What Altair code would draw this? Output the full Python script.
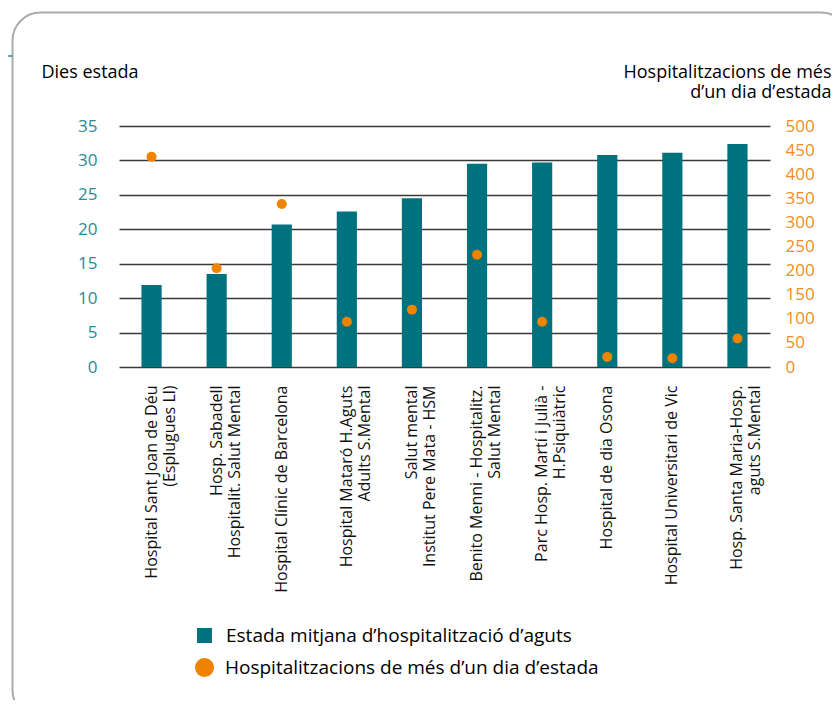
import altair as alt
import pandas as pd

categories = [
    "Hospital Sant Joan de Déu|(Esplugues Ll)",
    "Hosp. Sabadell|Hospitalit. Salut Mental",
    "Hospital Clínic de Barcelona",
    "Hospital Mataró H.Aguts|Adults S.Mental",
    "Salut mental|Institut Pere Mata - HSM",
    "Benito Menni - Hospitalitz.|Salut Mental",
    "Parc Hosp. Martí i Julià -|H.Psiquiàtric",
    "Hospital de dia Osona",
    "Hospital Universitari de Vic",
    "Hosp. Santa Maria-Hosp.|aguts S.Mental",
]
estada = [11.9, 13.5, 20.7, 22.6, 24.5, 29.5, 29.7, 30.8, 31.1, 32.4]
hosp = [436, 205, 338, 94, 119, 233, 94, 21, 18, 59]

left_ticks = [0, 5, 10, 15, 20, 25, 30, 35]
right_ticks = [0, 50, 100, 150, 200, 250, 300, 350, 400, 450, 500]

bar_label = "Estada mitjana d’hospitalització d’aguts"
dot_label = "Hospitalitzacions de més d’un dia d’estada"
left_title = "Dies estada"
right_title = ["Hospitalitzacions de més", "d’un dia d’estada"]

TEAL = "#00717E"
TEAL_TXT = "#2A8A98"
ORANGE = "#EE8300"
ORANGE_TXT = "#F28C28"
FONT = "Open Sans"

df = pd.DataFrame({"cat": categories, "estada": estada, "hosp": hosp,
                   "s1": bar_label, "s2": dot_label})
base = alt.Chart(df)

x_enc = alt.X(
    "cat:N", sort=categories, title=None,
    scale=alt.Scale(paddingInner=0.69, paddingOuter=0.345),
    axis=alt.Axis(labelAngle=-90, labelAlign="right", labelBaseline="middle",
                  labelPadding=18, labelFontSize=16, labelLineHeight=18,
                  labelExpr="split(datum.label, '|')", labelLimit=400,
                  domain=False, ticks=False, tickSize=0, labelColor="#111111",
                  labelFont=FONT),
)

bars = base.mark_bar().encode(
    x=x_enc,
    y=alt.Y("estada:Q", scale=alt.Scale(domain=[0, 35], nice=False),
            axis=alt.Axis(orient="left", values=left_ticks, grid=True,
                          gridColor="#3a3a3a", gridWidth=1.4, domain=False,
                          ticks=False, tickSize=0, labelPadding=22,
                          labelColor=TEAL_TXT, labelFontSize=17, labelFont=FONT,
                          title=left_title, titleAngle=0, titleAlign="left",
                          titleBaseline="alphabetic", titleX=-78, titleY=-49,
                          titleFontSize=18, titleFontWeight="normal",
                          titleColor="#000000", titleFont=FONT)),
    color=alt.Color("s1:N", scale=alt.Scale(domain=[bar_label], range=[TEAL]),
                    legend=alt.Legend(title=None, orient="none", legendX=76,
                                      legendY=500, symbolType="square",
                                      symbolSize=225, symbolStrokeWidth=0,
                                      labelOffset=12, labelFontSize=19,
                                      labelFont=FONT, labelColor="#000000",
                                      labelLimit=600, padding=0)),
)

dots = base.mark_point(filled=True, opacity=1, size=100, color=ORANGE).encode(
    x=x_enc,
    y=alt.Y("hosp:Q", scale=alt.Scale(domain=[0, 500], nice=False),
            axis=alt.Axis(orient="right", values=right_ticks, grid=False,
                          domain=False, ticks=False, tickSize=0, labelPadding=15,
                          labelColor=ORANGE_TXT, labelFontSize=17, labelFont=FONT,
                          title=right_title, titleAngle=0, titleAlign="right",
                          titleBaseline="alphabetic", titleX=61, titleY=-49,
                          titleLineHeight=20, titleFontSize=18,
                          titleFontWeight="normal", titleColor="#000000",
                          titleFont=FONT)),
    shape=alt.Shape("s2:N", scale=alt.Scale(domain=[dot_label], range=["circle"]),
                    legend=alt.Legend(title=None, orient="none", legendX=76,
                                      legendY=532, symbolSize=361,
                                      symbolFillColor=ORANGE,
                                      symbolStrokeColor=ORANGE,
                                      symbolStrokeWidth=0, labelOffset=11,
                                      labelFontSize=19, labelFont=FONT,
                                      labelColor="#000000", labelLimit=600,
                                      padding=0)),
)

frame = alt.Chart(pd.DataFrame({"k": [0]})).mark_rect(
    filled=False, stroke="#ababab", strokeWidth=2, cornerRadius=28
).encode(x=alt.value(-106.5), x2=alt.value(730), y=alt.value(-113.5),
         y2=alt.value(592))

tick_line = alt.Chart(pd.DataFrame({"k": [0]})).mark_rule(
    color="#2A8C9C", strokeWidth=1.5
).encode(x=alt.value(-130), x2=alt.value(-106.5), y=alt.value(-70))

chart = alt.layer(frame, tick_line, bars, dots).resolve_scale(
    y="independent", color="independent", shape="independent"
).properties(
    width=651, height=241,
    autosize=alt.AutoSizeParams(type="none"),
    padding={"left": 111, "top": 118, "right": 62, "bottom": 333},
).configure_view(stroke=None)

chart.save("out.html", embed_options={"renderer": "svg", "actions": False})
